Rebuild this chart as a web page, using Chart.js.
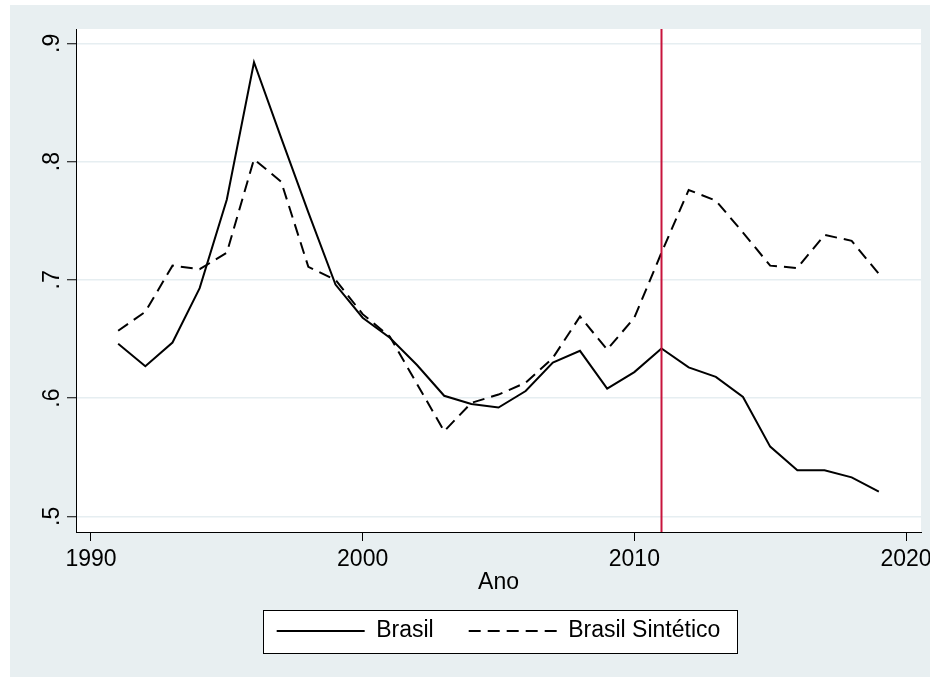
<!DOCTYPE html>
<html lang="pt">
<head>
<meta charset="utf-8">
<title>Brasil e Brasil Sintético</title>
<script src="https://cdn.jsdelivr.net/npm/chart.js@4/dist/chart.umd.min.js"></script>
<style>
  html, body { margin: 0; padding: 0; background: #ffffff; }
  #wrap { position: relative; width: 930px; height: 677px; }
  canvas { display: block; }
</style>
</head>
<body>
<div id="wrap"><canvas id="chart" width="930" height="677"></canvas></div>
<script>
// Series, one value per year
const years = [1991, 1992, 1993, 1994, 1995, 1996, 1997, 1998, 1999, 2000,
               2001, 2002, 2003, 2004, 2005, 2006, 2007, 2008, 2009, 2010,
               2011, 2012, 2013, 2014, 2015, 2016, 2017, 2018, 2019];
const brasil = [0.646, 0.627, 0.647, 0.693, 0.768, 0.884, 0.820, 0.757, 0.696, 0.668,
                0.651, 0.628, 0.602, 0.595, 0.592, 0.606, 0.630, 0.640, 0.608, 0.622,
                0.642, 0.626, 0.618, 0.601, 0.559, 0.539, 0.539, 0.533, 0.521];
const brasilSintetico = [0.657, 0.673, 0.712, 0.709, 0.723, 0.802, 0.783, 0.711, 0.700, 0.671,
                         0.652, 0.612, 0.572, 0.596, 0.603, 0.613, 0.634, 0.669, 0.641, 0.668,
                         0.723, 0.776, 0.767, 0.740, 0.712, 0.710, 0.738, 0.733, 0.705];
const seriesNames = ['Brasil', 'Brasil Sintético'];

// Axes
const xTicks = [1990, 2000, 2010, 2020];
const yTicks = [0.5, 0.6, 0.7, 0.8, 0.9];
const yTickLabels = ['.5', '.6', '.7', '.8', '.9'];
const xTitle = 'Ano';
const interventionYear = 2011;

const FONT = "'Liberation Sans', Arial, Helvetica, sans-serif";
const PANEL = '#E8EFF1';
const GRID = '#E6EEF1';
const DASH = [12, 7];

const points = vals => years.map((yr, i) => ({ x: yr, y: vals[i] }));

// Panel background, white plot region and the framed legend box
const backdrop = {
  id: 'backdrop',
  beforeDraw(chart) {
    const { ctx, chartArea: a, legend } = chart;
    ctx.save();
    ctx.fillStyle = '#ffffff';
    ctx.fillRect(0, 0, chart.width, chart.height);
    ctx.fillStyle = PANEL;
    ctx.fillRect(10, 5, chart.width - 10, chart.height - 5);
    ctx.fillStyle = '#ffffff';
    ctx.fillRect(a.left, a.top, a.right - a.left, a.bottom - a.top);
    if (legend && legend.legendHitBoxes && legend.legendHitBoxes.length) {
      const hb = legend.legendHitBoxes;
      const first = hb[0], last = hb[hb.length - 1];
      const cy = first.top + first.height / 2;
      const left = Math.round(first.left - 14) + 0.5;
      const right = Math.round(last.left + last.width + 17) + 0.5;
      const top = Math.round(cy - 21.5) + 0.5;
      ctx.fillRect(left, top, right - left, 43);
      ctx.strokeStyle = '#000000';
      ctx.lineWidth = 1;
      ctx.strokeRect(left, top, right - left, 43);
    }
    ctx.restore();
  }
};

// Vertical reference line at the intervention year
const interventionLine = {
  id: 'interventionLine',
  afterDatasetsDraw(chart) {
    const { ctx, chartArea: a, scales } = chart;
    const px = scales.x.getPixelForValue(interventionYear);
    ctx.save();
    ctx.strokeStyle = '#C8143C';
    ctx.lineWidth = 2;
    ctx.beginPath();
    ctx.moveTo(px, a.top);
    ctx.lineTo(px, a.bottom);
    ctx.stroke();
    ctx.restore();
  }
};

new Chart(document.getElementById('chart'), {
  type: 'line',
  data: {
    datasets: [
      {
        label: seriesNames[0],
        data: points(brasil),
        borderColor: '#000000',
        backgroundColor: '#000000',
        borderWidth: 2,
        pointRadius: 0,
        tension: 0,
        fill: false
      },
      {
        label: seriesNames[1],
        data: points(brasilSintetico),
        borderColor: '#000000',
        backgroundColor: '#000000',
        borderWidth: 2,
        borderDash: DASH,
        pointRadius: 0,
        tension: 0,
        fill: false
      }
    ]
  },
  options: {
    responsive: false,
    animation: false,
    devicePixelRatio: 1,
    layout: { padding: { top: 29, left: 10, right: 9, bottom: 24.5 } },
    plugins: {
      title: { display: false },
      tooltip: { enabled: false },
      legend: {
        display: true,
        position: 'bottom',
        fullSize: false,
        labels: {
          usePointStyle: true,
          pointStyle: 'line',
          pointStyleWidth: 88,
          padding: 35,
          color: '#000000',
          font: { family: FONT, size: 23 },
          generateLabels(chart) {
            const items = Chart.defaults.plugins.legend.labels.generateLabels(chart);
            items.forEach(it => {
              const ds = chart.data.datasets[it.datasetIndex];
              it.lineDash = ds.borderDash || [];
              it.lineDashOffset = 0;
              it.lineWidth = 2;
              it.strokeStyle = '#000000';
            });
            return items;
          }
        }
      }
    },
    scales: {
      x: {
        type: 'linear',
        min: 1989.448,
        max: 2020.552,
        afterBuildTicks: s => { s.ticks = xTicks.map(v => ({ value: v })); },
        afterFit: s => { s.height = 52.5; s.paddingLeft = 0; s.paddingRight = 0; },
        ticks: {
          color: '#000000',
          font: { family: FONT, size: 23 },
          padding: 5,
          maxRotation: 0,
          autoSkip: false,
          callback: v => String(v)
        },
        grid: {
          drawOnChartArea: false,
          drawTicks: true,
          tickLength: 9,
          tickColor: '#000000',
          tickWidth: 1
        },
        border: { display: true, color: '#000000', width: 1 },
        title: {
          display: true,
          text: xTitle,
          color: '#000000',
          font: { family: FONT, size: 23 },
          padding: { top: 0, bottom: -11.8 }
        }
      },
      y: {
        type: 'linear',
        min: 0.4868,
        max: 0.9121,
        afterBuildTicks: s => { s.ticks = yTicks.map(v => ({ value: v })); },
        afterFit: s => { s.width = 66; s.paddingTop = 0; s.paddingBottom = 0; },
        ticks: {
          color: '#000000',
          font: { family: FONT, size: 23 },
          padding: 5,
          minRotation: 90,
          maxRotation: 90,
          crossAlign: 'center',
          autoSkip: false,
          callback: (v, i) => yTickLabels[i]
        },
        grid: {
          color: GRID,
          lineWidth: 1.5,
          drawTicks: true,
          tickLength: 9,
          tickColor: '#000000',
          tickWidth: 1
        },
        border: { display: true, color: '#000000', width: 1 }
      }
    }
  },
  plugins: [backdrop, interventionLine]
});
</script>
</body>
</html>
